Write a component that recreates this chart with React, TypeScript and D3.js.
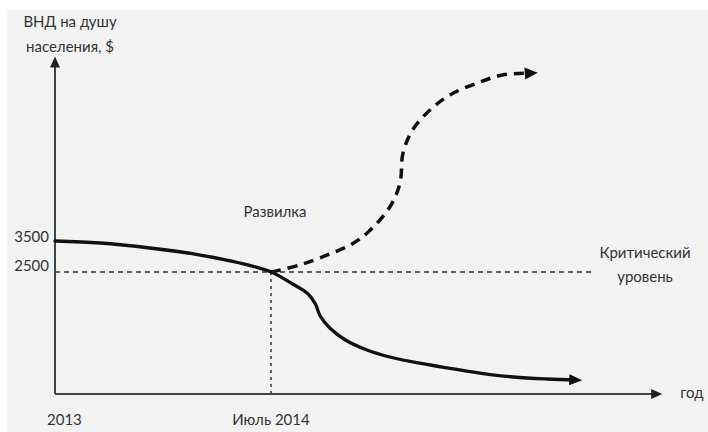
import React from "react";
import * as d3 from "d3";

// x = months since January 2013, y = GNI per capita, $
const solidMonths = [0, 3.75, 7.9, 12.1, 15.4, 18, 19.8, 21.1, 21.7, 22.1, 22.9, 24.2, 26, 27.9, 29.8, 32.7, 35.4, 38.2, 41, 43.5];
const solidValues = [3500, 3435, 3274, 3048, 2790, 2500, 2254, 2049, 1844, 1598, 1352, 1107, 902, 758, 656, 533, 430, 348, 307, 287];

const dashedMonths = [18, 20.4, 22.7, 24.6, 26.1, 27.9, 28.75, 29, 29.8, 31.25, 32.9, 35.2, 37.3, 39.8];
const dashedValues = [2500, 2726, 3050, 3371, 3790, 4597, 5371, 6339, 7081, 7726, 8210, 8597, 8855, 8920];

const yTickValues = [3500, 2500];
const yTickLabels = ["3500", "2500"];
const xTickMonths = [0, 18];
const xTickLabels = ["2013", "Июль 2014"];

const criticalLevel = 2500;
const forkMonth = 18;
const criticalEndMonth = 44.75;
const xAxisEndMonth = 50.6;
const yAxisTopValue = 9450;

const yTitle = ["ВНД на душу", "населения, $"];
const xTitle = "год";
const forkLabel = "Развилка";
const criticalLabel = ["Критический", "уровень"];

const W = 708;
const H = 432;
const FONT = "Lato, 'Open Sans', sans-serif";
const TEXT = "#333333";

export default function App() {
  const x = d3.scaleLinear().domain([0, 18]).range([55, 271]);
  const y = d3.scaleLinear().domain([0, 2500, 3500]).range([394, 272, 241]);

  const solid = solidMonths.map((m, i) => [m, solidValues[i]] as [number, number]);
  const dashed = dashedMonths.map((m, i) => [m, dashedValues[i]] as [number, number]);

  const curveLine = d3
    .line<[number, number]>()
    .x((d) => x(d[0]))
    .y((d) => y(d[1]))
    .curve(d3.curveCatmullRom.alpha(0.5));

  const arrowHead = (pts: [number, number][], len: number, half: number) => {
    const a = pts[pts.length - 2];
    const b = pts[pts.length - 1];
    const x1 = x(a[0]), y1 = y(a[1]), x2 = x(b[0]), y2 = y(b[1]);
    const ang = Math.atan2(y2 - y1, x2 - x1);
    const tipX = x2 + Math.cos(ang) * len * 0.4;
    const tipY = y2 + Math.sin(ang) * len * 0.4;
    const bx = tipX - Math.cos(ang) * len;
    const by = tipY - Math.sin(ang) * len;
    const px = -Math.sin(ang) * half;
    const py = Math.cos(ang) * half;
    return `M${tipX},${tipY}L${bx + px},${by + py}L${bx - px},${by - py}Z`;
  };

  const x0 = x(0);
  const y0 = y(0);
  const xEnd = x(xAxisEndMonth);
  const yTop = y(yAxisTopValue);

  return (
    <svg
      width={W}
      height={H}
      style={{ position: "absolute", left: 0, top: 0, fontFamily: FONT }}
    >
      <rect x={0} y={0} width={W} height={H} fill="#ffffff" />
      <rect x={7} y={10} width={W - 7} height={H - 10} fill="#f2f2f2" />

      {/* reference lines */}
      <line
        x1={x0}
        x2={x(criticalEndMonth)}
        y1={y(criticalLevel)}
        y2={y(criticalLevel)}
        stroke="#333"
        strokeWidth={1.5}
        strokeDasharray="5 4"
      />
      <line
        x1={x(forkMonth)}
        x2={x(forkMonth)}
        y1={y(criticalLevel)}
        y2={y0}
        stroke="#333"
        strokeWidth={1.5}
        strokeDasharray="3 4"
      />

      {/* axes */}
      <line x1={x0} x2={xEnd - 8} y1={y0} y2={y0} stroke="#444" strokeWidth={2} />
      <path d={`M${xEnd},${y0}L${xEnd - 11},${y0 - 5}L${xEnd - 11},${y0 + 5}Z`} fill="#222" />
      <line x1={x0} x2={x0} y1={y0} y2={yTop + 8} stroke="#444" strokeWidth={2} />
      <path d={`M${x0},${yTop}L${x0 - 5},${yTop + 11}L${x0 + 5},${yTop + 11}Z`} fill="#222" />

      {/* curves */}
      <path d={curveLine(solid) ?? ""} fill="none" stroke="#111" strokeWidth={3.3} strokeLinecap="round" strokeLinejoin="round" />
      <path d={arrowHead(solid, 13, 5.5)} fill="#111" />
      <path
        d={curveLine(dashed) ?? ""}
        fill="none"
        stroke="#111"
        strokeWidth={3.5}
        strokeDasharray="10 7"
      />
      <path d={arrowHead(dashed, 13, 6)} fill="#111" />

      {/* y tick labels */}
      {yTickValues.map((v, i) => (
        <text
          key={v}
          x={x0 - 6}
          y={y(v) - (i === 0 ? 3 : 5)}
          textAnchor="end"
          fontSize={15}
          fill={TEXT}
          dominantBaseline="middle"
        >
          {yTickLabels[i]}
        </text>
      ))}

      {/* x tick labels */}
      {xTickMonths.map((m, i) => (
        <text
          key={m}
          x={i === 0 ? x(m) - 8 : x(m)}
          y={421}
          textAnchor={i === 0 ? "start" : "middle"}
          fontSize={15}
          fill={TEXT}
          dominantBaseline="middle"
        >
          {xTickLabels[i]}
        </text>
      ))}

      {/* titles */}
      {yTitle.map((t, i) => (
        <text key={t} x={70} y={23 + i * 25} textAnchor="middle" fontSize={15} fill={TEXT} dominantBaseline="middle">
          {t}
        </text>
      ))}
      <text x={xEnd + 18} y={y0} fontSize={15} fill={TEXT} dominantBaseline="middle">
        {xTitle}
      </text>
      <text x={275} y={213} textAnchor="middle" fontSize={15} fill={TEXT} dominantBaseline="middle">
        {forkLabel}
      </text>
      {criticalLabel.map((t, i) => (
        <text key={t} x={645} y={254 + i * 24} textAnchor="middle" fontSize={15} fill={TEXT} dominantBaseline="middle">
          {t}
        </text>
      ))}
    </svg>
  );
}
